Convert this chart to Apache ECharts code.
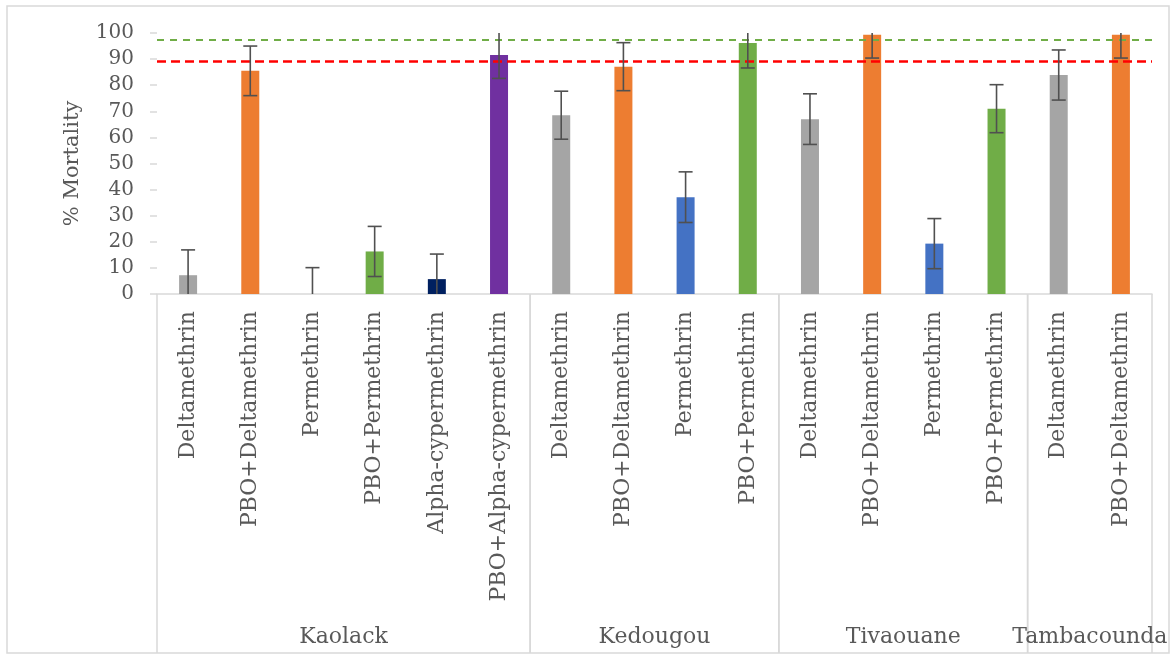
<!DOCTYPE html>
<html>
<head>
<meta charset="utf-8">
<script src="https://cdn.jsdelivr.net/npm/echarts@6/dist/echarts.min.js"></script>
<style>html,body{margin:0;padding:0;background:#fff;}#c{width:1176px;height:656px;}</style>
</head>
<body>
<div id="c"></div>
<script>
// ---- data ----
const categories = [
  'Deltamethrin','PBO+Deltamethrin','Permethrin','PBO+Permethrin','Alpha-cypermethrin','PBO+Alpha-cypermethrin',
  'Deltamethrin','PBO+Deltamethrin','Permethrin','PBO+Permethrin',
  'Deltamethrin','PBO+Deltamethrin','Permethrin','PBO+Permethrin',
  'Deltamethrin','PBO+Deltamethrin'
];
const mortality = [7.2, 85.5, 0, 16.3, 5.7, 91.6, 68.5, 87.1, 37.1, 96.2, 67.0, 99.3, 19.3, 71.0, 83.9, 99.3];
const errors    = [9.7, 9.5, 10.1, 9.6, 9.6, 9.0, 9.2, 9.2, 9.7, 9.6, 9.7, 8.9, 9.6, 9.2, 9.6, 8.9];
const groupNames = ['Kaolack','Kedougou','Tivaouane','Tambacounda'];
const groupSizes = [6, 4, 4, 2];
const thresholdGreen = 97.5;
const thresholdRed = 89;
const yTicks = [0,10,20,30,40,50,60,70,80,90,100];

// ---- styles ----
const FONT = '"DejaVu Serif", "Liberation Serif", serif';
const TXT = '#595959';
const colorMap = {
  'Deltamethrin': '#a5a5a5',
  'PBO+Deltamethrin': '#ed7d31',
  'Permethrin': '#4472c4',
  'PBO+Permethrin': '#70ad47',
  'Alpha-cypermethrin': '#002060',
  'PBO+Alpha-cypermethrin': '#7030a0'
};
const yMin = yTicks[0], yMax = yTicks[yTicks.length - 1];

const barData = mortality.map((v, i) => ({ value: v, itemStyle: { color: colorMap[categories[i]] } }));
const errData = mortality.map((v, i) => [i, v - errors[i], v + errors[i]]);
let start = 0;
const groupData = groupNames.map((g, k) => {
  const item = { value: [start, start + groupSizes[k] - 1, 0], name: g };
  start += groupSizes[k];
  return item;
});

const chart = echarts.init(document.getElementById('c'), null, { renderer: 'canvas' });
chart.setOption({
  animation: false,
  backgroundColor: '#fff',
  grid: { left: 157, right: 24, top: 33, bottom: 362, containLabel: false },
  graphic: [{
    type: 'rect', silent: true,
    shape: { x: 7, y: 6, width: 1162, height: 647 },
    style: { fill: 'none', stroke: '#d9d9d9', lineWidth: 1.5 }
  }],
  xAxis: {
    type: 'category',
    data: categories.map((c, i) => c + '#' + i),
    axisLine: { show: true, lineStyle: { color: '#d9d9d9', width: 1.5 } },
    axisTick: { show: false },
    axisLabel: {
      rotate: 90, interval: 0, margin: 17,
      formatter: v => v.split('#')[0],
      color: TXT, fontFamily: FONT, fontSize: 22
    }
  },
  yAxis: {
    type: 'value', min: yMin, max: yMax, interval: 10,
    name: '% Mortality', nameLocation: 'middle', nameRotate: 90, nameGap: 74,
    nameTextStyle: { color: TXT, fontFamily: FONT, fontSize: 21 },
    axisLine: { show: false },
    axisTick: { show: true, length: 7, lineStyle: { color: '#d9d9d9', width: 1.5 } },
    splitLine: { show: false },
    axisLabel: { color: TXT, fontFamily: FONT, fontSize: 20, margin: 23 }
  },
  series: [
    {
      type: 'bar', data: barData, barWidth: 18,
      markLine: {
        silent: true, symbol: 'none', label: { show: false },
        data: [
          { yAxis: thresholdGreen, lineStyle: { color: '#70ad47', type: [7, 6], width: 2 } },
          { yAxis: thresholdRed, lineStyle: { color: '#ff0000', type: [9, 5], width: 2.5 } }
        ]
      },
      z: 2
    },
    {
      type: 'custom', data: errData, encode: { x: 0, y: [1, 2] }, z: 5, clip: false,
      renderItem: (params, api) => {
        const i = api.value(0);
        const lo = api.value(1), hi = api.value(2);
        const loC = Math.max(lo, yMin), hiC = Math.min(hi, yMax);
        const pLo = api.coord([i, loC]), pHi = api.coord([i, hiC]);
        const x = pLo[0], cap = 7;
        const st = { stroke: '#505050', lineWidth: 1.6 };
        const ch = [{ type: 'line', shape: { x1: x, y1: pLo[1], x2: x, y2: pHi[1] }, style: st }];
        if (hi <= yMax) ch.push({ type: 'line', shape: { x1: x - cap, y1: pHi[1], x2: x + cap, y2: pHi[1] }, style: st });
        if (lo >= yMin) ch.push({ type: 'line', shape: { x1: x - cap, y1: pLo[1], x2: x + cap, y2: pLo[1] }, style: st });
        return { type: 'group', children: ch };
      }
    },
    {
      type: 'custom', data: groupData, encode: { x: 0, y: 2 }, z: 1, clip: false, silent: true,
      renderItem: (params, api) => {
        const s = api.value(0), e = api.value(1);
        const bw = api.size([1, 0])[0];
        const p0 = api.coord([s, 0]), p1 = api.coord([e, 0]);
        const left = p0[0] - bw / 2, right = p1[0] + bw / 2;
        const y0 = p0[1], yB = 653;
        const st = { stroke: '#d9d9d9', lineWidth: 1.5 };
        const ch = [
          { type: 'line', shape: { x1: left, y1: y0, x2: left, y2: yB }, style: st },
          { type: 'line', shape: { x1: right, y1: y0, x2: right, y2: yB }, style: st },
          { type: 'text', style: { text: groupNames[params.dataIndex], x: (left + right) / 2, y: 637,
            align: 'center', verticalAlign: 'middle', fill: TXT, fontFamily: FONT, fontSize: 22 } }
        ];
        return { type: 'group', children: ch };
      }
    }
  ]
});
</script>
</body>
</html>
